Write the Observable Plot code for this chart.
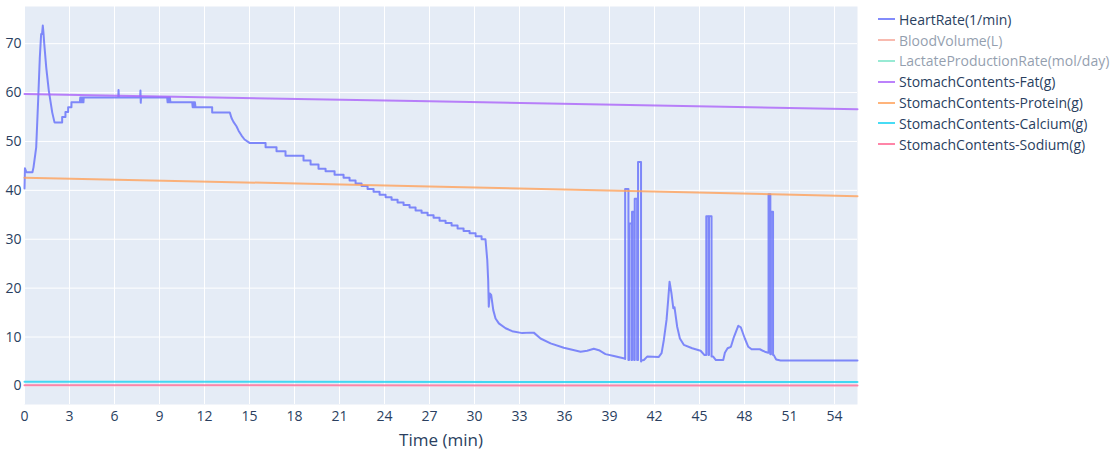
<!DOCTYPE html>
<html><head><meta charset="utf-8">
<script src="https://cdn.jsdelivr.net/npm/d3@7"></script>
<script src="https://cdn.jsdelivr.net/npm/@observablehq/plot@0.6"></script>
<style>
body{margin:0;background:#fff;font-family:"Open Sans",sans-serif;}
#wrap{position:relative;width:1120px;height:449px;}
#legend{position:absolute;left:878px;top:9px;font-size:14px;color:#2a3f5f;}
.item{display:flex;align-items:center;height:20.8px;white-space:nowrap;}
.swatch{width:17px;height:2px;margin-right:4px;}
</style></head>
<body><div id="wrap"><div id="legend"></div></div>
<script>
const seriesNames = ["HeartRate(1/min)","BloodVolume(L)","LactateProductionRate(mol/day)","StomachContents-Fat(g)","StomachContents-Protein(g)","StomachContents-Calcium(g)","StomachContents-Sodium(g)"];
const seriesColors = ["#636efa","#EF553B","#00cc96","#ab63fa","#FFA15A","#19d3f3","#FF6692"];
const seriesVisible = [true,false,false,true,true,true,true];
const xTicks = [0,3,6,9,12,15,18,21,24,27,30,33,36,39,42,45,48,51,54];
const yTicks = [0,10,20,30,40,50,60,70];

// [time (min), value]
const heartRate = [
[0,40.4],[0.03,44.5],[0.13,43.7],[0.53,43.7],[0.6,44.7],[0.78,48.8],[0.91,58.4],[1.02,67.1],[1.11,72.0],[1.17,72.0],[1.22,73.7],[1.27,72.0],[1.31,70.2],[1.45,65.1],[1.62,60.4],[1.85,55.9],[2.0,53.9],[2.51,53.9],[2.51,55.0],[2.73,55.0],[2.73,56.0],[2.91,56.0],[2.91,57.0],[3.13,57.0],[3.13,58.0],[3.69,58.0],[3.72,59],[3.75,58],[3.78,59],[3.81,58],[3.84,59],[3.87,58],[3.9,59],[3.93,58],[3.95,59.0],
[6.25,59.0],[6.27,60.5],[6.29,59.0],[7.71,59.0],[7.73,60.4],[7.75,57.9],[7.77,59.0],
[9.51,59.0],[9.54,58],[9.57,59],[9.6,58],[9.63,59],[9.66,58],[9.69,59],[9.73,58.0],
[11.18,58.0],[11.21,57],[11.24,58],[11.27,57],[11.3,58],[11.33,57],[11.36,58],[11.4,57.0],
[12.51,57.0],[12.51,55.9],[13.69,55.9],[13.8,54.8],[13.93,54.0],[14.13,53.1],[14.27,52.2],[14.47,51.2],[14.67,50.4],[15.0,49.7],[16.07,49.7],[16.07,48.8],[16.8,48.8],[16.8,48.0],[17.4,48.0],[17.4,47.1],[18.6,47.1],[18.6,46.1],[19.07,46.1],[19.07,45.3],[19.6,45.3],[19.6,44.4],[20.07,44.4],[20.07,43.9],[20.67,43.9],[20.67,43.2],
[21.27,43.2],[21.27,42.6],[21.67,42.6],[21.67,42.0],[22.07,42.0],[22.07,41.4],[22.47,41.4],[22.47,40.9],[22.87,40.9],[22.87,40.3],[23.27,40.3],[23.27,39.7],[23.67,39.7],[23.67,39.1],[24.07,39.1],[24.07,38.6],[24.47,38.6],[24.47,38.1],[24.87,38.1],[24.87,37.5],[25.27,37.5],[25.27,37.0],[25.67,37.0],[25.67,36.5],[26.07,36.5],[26.07,35.9],[26.47,35.9],[26.47,35.4],[26.87,35.4],[26.87,34.9],[27.27,34.9],[27.27,34.4],[27.67,34.4],[27.67,33.8],[28.07,33.8],[28.07,33.3],[28.47,33.3],[28.47,32.8],[28.87,32.8],[28.87,32.2],[29.27,32.2],[29.27,31.7],[29.67,31.7],[29.67,31.2],[30.07,31.2],[30.07,30.6],[30.47,30.6],[30.47,30.0],[30.73,30.0],
[30.85,25.7],[30.91,21.6],[30.95,16.2],[31.02,18.9],[31.11,18.6],[31.25,15.5],[31.4,13.8],[31.62,12.8],[32.07,11.8],[32.51,11.2],[33.18,10.8],[33.73,10.9],[33.95,10.9],[34.4,9.7],[35.07,8.7],[35.95,7.8],[37.07,7.0],[37.51,7.2],[37.95,7.6],[38.29,7.3],[38.73,6.5],[39.29,6.1],[40.0,5.6],
[40.04,5.5],[40.04,40.3],[40.26,40.3],[40.26,5.3],[40.3,5.3],[40.3,33.2],[40.46,33.2],[40.46,5.3],[40.5,5.3],[40.5,35.6],[40.64,35.6],[40.64,5.3],[40.68,5.3],[40.68,38.3],[40.84,38.3],[40.84,5.3],[40.9,5.3],[40.9,45.8],[41.1,45.8],[41.1,5.0],
[41.13,5.2],[41.29,5.3],[41.51,6.0],[42.27,5.9],[42.47,6.7],[42.62,9.4],[42.8,13.5],[42.91,17.6],[43.0,21.3],[43.13,18.9],[43.25,15.9],[43.33,16.1],[43.51,12.1],[43.69,9.7],[43.95,8.4],[44.51,7.7],[45.07,7.2],[45.33,6.3],
[45.45,6.3],[45.45,34.7],[45.6,34.7],[45.6,6.3],[45.63,6.3],[45.63,34.7],[45.8,34.7],[45.8,6.0],
[45.91,6.0],[46.09,5.3],[46.58,5.3],[46.69,6.8],[46.87,7.7],[47.09,8.0],[47.29,10.0],[47.58,12.3],[47.75,12.0],[48.02,9.7],[48.25,8.0],[48.47,7.5],[49.02,7.5],[49.35,7.0],[49.58,6.8],
[49.6,6.8],[49.6,39.2],[49.72,39.2],[49.72,6.5],[49.76,6.5],[49.76,35.6],[49.9,35.6],[49.9,6.3],
[49.95,6.3],[50.11,5.4],[50.4,5.2],[55.53,5.2]
];
const stomachFat = [[0,59.7],[27,58.2],[55.53,56.6]];
const stomachProtein = [[0,42.6],[27,40.8],[55.53,38.8]];
const stomachCalcium = [[0,0.85],[55.53,0.8]];
const stomachSodium = [[0,0.12],[55.53,0.1]];

const lineOpts = (c) => ({x: d => d[0], y: d => d[1], stroke: c, strokeWidth: 2, strokeOpacity: 0.8});

const chart = Plot.plot({
  width: 1120, height: 449,
  marginLeft: 24, marginRight: 263, marginTop: 6, marginBottom: 45,
  style: {fontFamily: "Open Sans", fontSize: "14px", color: "#2a3f5f", background: "transparent", overflow: "visible"},
  x: {domain: [0, 55.53], label: null},
  y: {domain: [-3.8, 77.6], label: null},
  marks: [
    Plot.frame({fill: "#E5ECF6", stroke: "none"}),
    Plot.gridX(xTicks, {stroke: "white", strokeOpacity: 1, strokeWidth: 1}),
    Plot.gridY(yTicks, {stroke: "white", strokeOpacity: 1, strokeWidth: 1}),
    Plot.axisX(xTicks, {tickSize: 0, tickPadding: 7, label: null, fill: "#2a3f5f"}),
    Plot.axisY(yTicks, {tickSize: 0, tickPadding: 3, label: null, fill: "#2a3f5f"}),
    Plot.line(heartRate, lineOpts(seriesColors[0])),
    Plot.line(stomachFat, lineOpts(seriesColors[3])),
    Plot.line(stomachProtein, lineOpts(seriesColors[4])),
    Plot.line(stomachCalcium, lineOpts(seriesColors[5])),
    Plot.line(stomachSodium, lineOpts(seriesColors[6])),
    Plot.text(["Time (min)"], {frameAnchor: "bottom", lineAnchor: "middle", dy: 36, fontSize: 17, fill: "#2a3f5f"})
  ]
});
document.getElementById("wrap").prepend(chart);
const lg = d3.select("#legend");
seriesNames.forEach((n, i) => {
  const it = lg.append("div").attr("class", "item").style("opacity", seriesVisible[i] ? 1 : 0.5);
  it.append("div").attr("class", "swatch").style("background", seriesColors[i]).style("opacity", 0.8);
  it.append("span").text(n);
});
</script>
</body></html>
